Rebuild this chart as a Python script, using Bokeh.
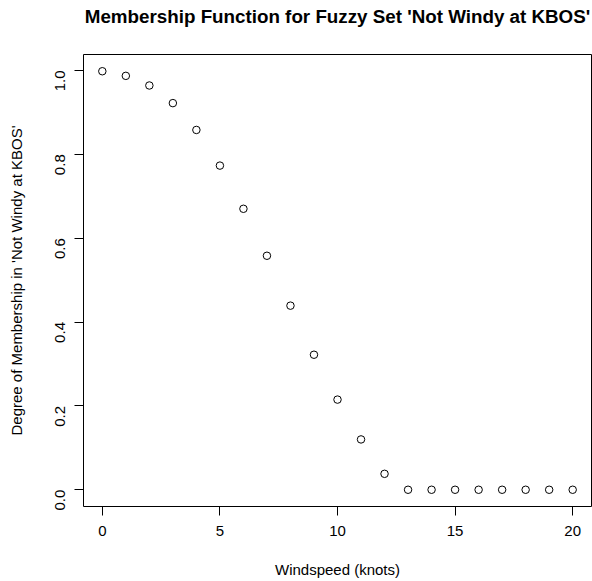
import math
from bokeh.plotting import figure
from bokeh.models import Range1d, FixedTicker, Title
from bokeh.embed import file_html
from bokeh.resources import INLINE

# Wind speed in knots and the membership degree of "not windy at KBOS"
windspeed = [0, 1, 2, 3, 4, 5, 6, 7, 8, 9, 10, 11, 12, 13, 14, 15, 16, 17, 18, 19, 20]
membership = [0.998, 0.987, 0.964, 0.922, 0.858, 0.773, 0.670, 0.558, 0.439,
              0.322, 0.215, 0.120, 0.038, 0.0, 0.0, 0.0, 0.0, 0.0, 0.0, 0.0, 0.0]
x_ticks = [0, 5, 10, 15, 20]
y_ticks = [0.0, 0.2, 0.4, 0.6, 0.8, 1.0]
y_tick_labels = {0.0: "0.0", 0.2: "0.2", 0.4: "0.4", 0.6: "0.6", 0.8: "0.8", 1.0: "1.0"}
title_text = "Membership Function for Fuzzy Set 'Not Windy at KBOS'"

FONT = "Liberation Sans"

# R-style 4% padding around the data range
xmin, xmax = min(windspeed), max(windspeed)
ymin, ymax = min(membership), max(membership)
xpad = 0.04 * (xmax - xmin)
ypad = 0.04 * (ymax - ymin)

p = figure(
    width=592, height=581,
    output_backend="svg", toolbar_location=None,
    x_range=Range1d(xmin - xpad, xmax + xpad),
    y_range=Range1d(ymin - ypad, ymax + ypad),
    min_border_left=83, min_border_right=1,
    min_border_top=54, min_border_bottom=75,
    title=title_text,
)
p.background_fill_color = "white"
p.border_fill_color = "white"
p.grid.visible = False
p.outline_line_color = "black"
p.outline_line_width = 1

# Blank panel between the box and the title, so the title sits near the top edge
p.add_layout(Title(text=" ", text_font=FONT, text_font_size="12px", standoff=3.8), "above")

p.title.align = "center"
p.title.vertical_align = "top"
p.title.text_font = FONT
p.title.text_font_size = "18.8px"
p.title.text_font_style = "bold"
p.title.text_color = "black"
p.title.offset = 0
p.title.standoff = 11.4

p.xaxis.ticker = FixedTicker(ticks=x_ticks)
p.yaxis.ticker = FixedTicker(ticks=y_ticks)
p.yaxis.major_label_overrides = y_tick_labels
p.yaxis.major_label_orientation = math.pi / 2

for ax in (p.xaxis, p.yaxis):
    ax.axis_line_color = None
    ax.major_tick_line_color = "black"
    ax.major_tick_in = 0
    ax.major_tick_out = 9
    ax.minor_tick_line_color = None
    ax.major_label_text_font = FONT
    ax.major_label_text_font_size = "15px"
    ax.major_label_text_color = "black"
    ax.axis_label_text_font = FONT
    ax.axis_label_text_font_size = "15px"
    ax.axis_label_text_font_style = "normal"
    ax.axis_label_text_color = "black"

p.xaxis.axis_label = "Windspeed (knots)"
p.yaxis.axis_label = "Degree of Membership in 'Not Windy at KBOS'"
p.xaxis.major_label_standoff = 10
p.yaxis.major_label_standoff = 14
p.xaxis.axis_label_standoff = 22
p.yaxis.axis_label_standoff = 23

p.scatter(windspeed, membership, marker="circle", size=7.5,
          fill_color=None, line_color="black", line_width=1)

open("out.html", "w").write(file_html(p, INLINE))
